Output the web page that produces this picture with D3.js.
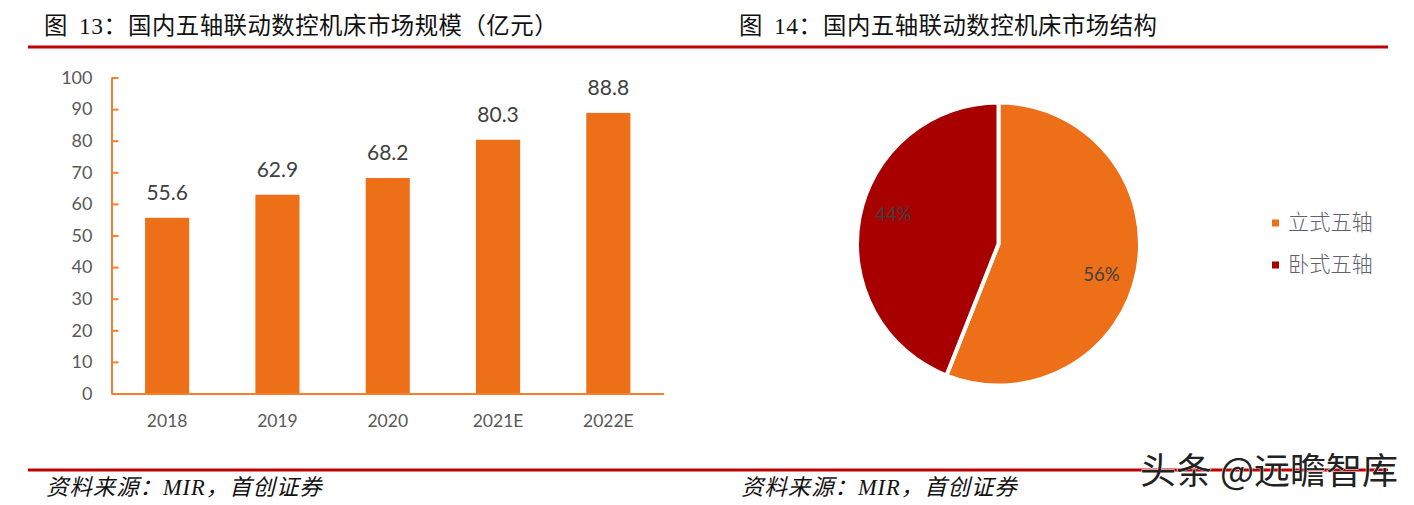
<!DOCTYPE html>
<html><head><meta charset="utf-8">
<script src="https://cdnjs.cloudflare.com/ajax/libs/d3/7.8.5/d3.min.js"></script>
<style>html,body{margin:0;padding:0;background:#fff;overflow:hidden}svg{display:block}</style>
</head><body><svg id="c" width="1414" height="505"></svg>
<script>
const years = ["2018","2019","2020","2021E","2022E"];
const marketSize = [55.6,62.9,68.2,80.3,88.8];
const yTicks = [0,10,20,30,40,50,60,70,80,90,100];
const structureNames = ["立式五轴","卧式五轴"];
const structureValues = [56,44];
const structureColors = ["#ed6f17","#a80000"];
const figWord = "图";
const title13 = ["13：","国内五轴联动数控机床市场规模（亿元）"];
const title14 = ["14：","国内五轴联动数控机床市场结构"];
const source = "资料来源：MIR，首创证券";
const watermark = "头条 @远瞻智库";

const svg = d3.select("#c");
const serif = "'Liberation Serif','Noto Sans CJK SC',serif";
const sans = "Lato,'Open Sans',sans-serif";
const cjk = "'Noto Sans CJK SC',sans-serif";
const orange = "#ed6f17", axisCol = "#f4802f", txt = "#595959", red = "#c00000";

// header / footer rules
[[45.5,3],[468.5,3]].forEach(([y,h])=>svg.append("rect").attr("x",28).attr("y",y).attr("width",1360).attr("height",h).attr("fill",red));

function heading(x0, parts){
  const t = svg.append("text").attr("y",34).attr("font-family",serif).attr("font-size",23.4).attr("letter-spacing",0.5).attr("fill","#111");
  t.append("tspan").attr("x",x0).text(figWord);
  t.append("tspan").attr("x",x0+35).text(parts[0]);
  t.append("tspan").attr("x",x0+84).text(parts[1]);
}
heading(44,title13);
heading(739,title14);
[46,741].forEach(x=>svg.append("text").attr("x",x).attr("y",495).attr("font-family",serif).attr("font-style","italic").attr("font-size",22.4).attr("letter-spacing",1).attr("fill","#111").text(source));

// bar chart
const x = d3.scaleBand().domain(years).range([112,663.5]).paddingInner(0.6).paddingOuter(0.3);
const y = d3.scaleLinear().domain([0,100]).range([393.5,77.5]);

svg.selectAll(".bar").data(marketSize).join("rect").attr("class","bar")
  .attr("x",(d,i)=>x(years[i])).attr("y",d=>y(d)).attr("width",x.bandwidth()).attr("height",d=>y(0)-y(d)).attr("fill",orange);

const gy = svg.append("g").attr("transform","translate(111.5,0)")
  .call(d3.axisLeft(y).tickValues(yTicks).tickSize(-7).tickPadding(19).tickSizeOuter(0));
gy.selectAll("path,line").attr("stroke",axisCol).attr("stroke-width",2);
gy.selectAll("text").attr("font-family",sans).attr("font-size",18).attr("fill",txt);

const gx = svg.append("g").attr("transform","translate(0,393.5)")
  .call(d3.axisBottom(x).tickSize(0).tickPadding(21));
gx.select("path").attr("stroke",axisCol).attr("stroke-width",2);
gx.selectAll("text").attr("font-family",sans).attr("font-size",17.5).attr("fill",txt);

svg.selectAll(".lbl").data(marketSize).join("text").attr("class","lbl")
  .attr("x",(d,i)=>x(years[i])+x.bandwidth()/2).attr("y",d=>y(d)-18).attr("text-anchor","middle")
  .attr("font-family",sans).attr("font-size",21).attr("fill","#404040").text(d=>d.toFixed(1));

// pie
const arcs = d3.pie().sort(null)(structureValues);
const arc = d3.arc().innerRadius(0).outerRadius(141.5);
const pg = svg.append("g").attr("transform","translate(998.5,244)");
pg.selectAll("path").data(arcs).join("path").attr("d",arc).attr("fill",(d,i)=>structureColors[i]).attr("stroke","#fff").attr("stroke-width",4);
const labelPos = [[103,31],[-105,-29]];
pg.selectAll("text").data(arcs).join("text")
  .attr("x",(d,i)=>labelPos[i][0]).attr("y",(d,i)=>labelPos[i][1]+6).attr("text-anchor","middle")
  .attr("font-family",sans).attr("font-size",18.5).attr("fill","#404040")
  .text(d=>d.value+"%");

// legend
structureNames.forEach((n,i)=>{
  const yy = 223 + i*42;
  svg.append("rect").attr("x",1272).attr("y",yy-3.5).attr("width",7).attr("height",7).attr("fill",structureColors[i]);
  svg.append("text").attr("x",1288).attr("y",yy+7).attr("font-family",cjk).attr("font-size",21.2).attr("font-weight",300).attr("fill","#5f5f6e").text(n);
});

// watermark
const wm = svg.append("text").attr("x",1140).attr("y",484).attr("font-family",cjk).attr("font-size",36).attr("font-weight",400).attr("xml:space","preserve").text(watermark);
wm.attr("fill","#222").attr("stroke","#fff").attr("stroke-width",0.8).attr("paint-order","stroke");
</script></body></html>
